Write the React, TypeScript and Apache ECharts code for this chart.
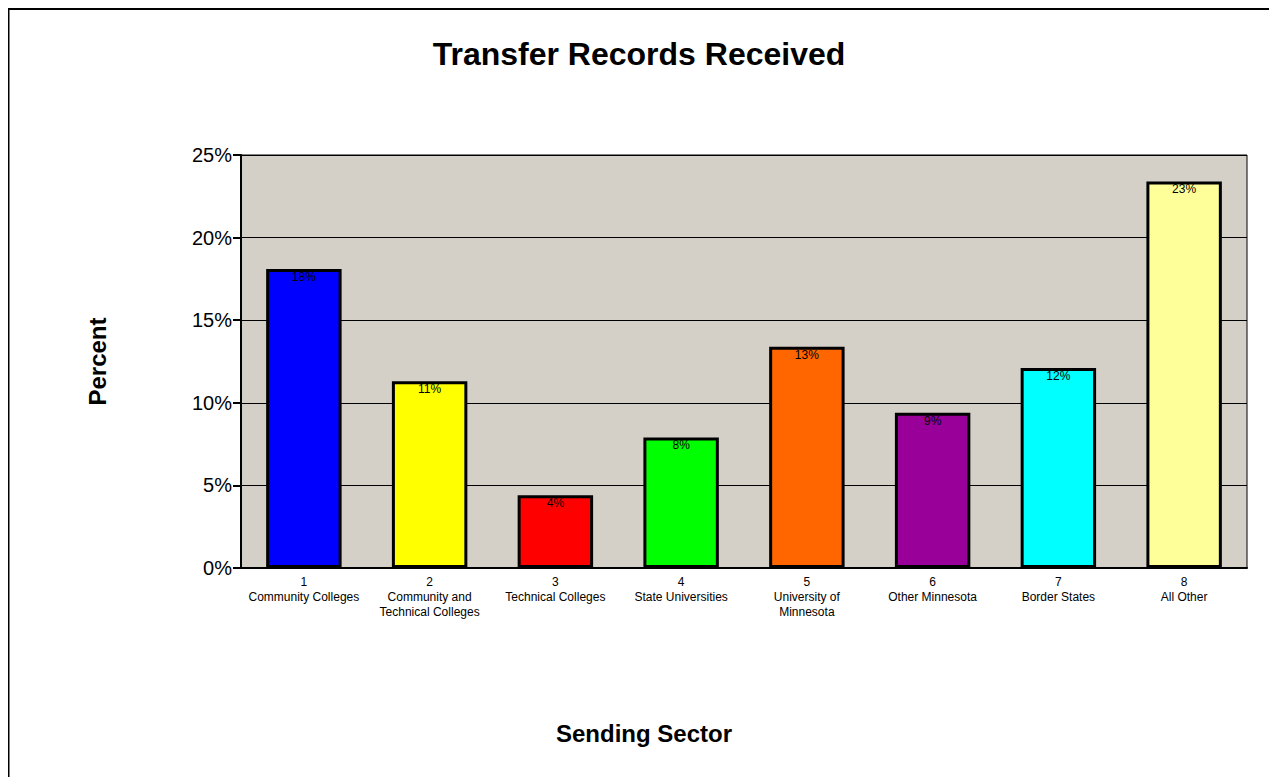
import React, { useEffect, useRef } from "react";
import * as echarts from "echarts";

const categories = [
  "1\nCommunity Colleges",
  "2\nCommunity and\nTechnical Colleges",
  "3\nTechnical Colleges",
  "4\nState Universities",
  "5\nUniversity of\nMinnesota",
  "6\nOther Minnesota",
  "7\nBorder States",
  "8\nAll Other",
];
const values = [18.1, 11.3, 4.4, 7.9, 13.4, 9.4, 12.1, 23.4];
const barColors = ["#0000FF", "#FFFF00", "#FF0000", "#00FF00", "#FF6600", "#990099", "#00FFFF", "#FFFF99"];
const yTicks = [0, 5, 10, 15, 20, 25];

const FONT = "Arial, 'Liberation Sans', sans-serif";

export default function App() {
  const ref = useRef<HTMLDivElement>(null);
  useEffect(() => {
    const el = ref.current;
    if (!el) return;
    const chart = echarts.init(el, undefined, { renderer: "svg" });
    chart.setOption({
      animation: false,
      backgroundColor: "#FFFFFF",
      textStyle: { fontFamily: FONT },
      graphic: [
        { type: "line", shape: { x1: 0, y1: 1, x2: 1269, y2: 1 }, style: { stroke: "#000", lineWidth: 2 } },
        { type: "line", shape: { x1: 0, y1: 0, x2: 0, y2: 769 }, style: { stroke: "#000", lineWidth: 3 } },
        {
          type: "text",
          x: 631,
          y: 45.5,
          style: {
            text: "Transfer Records Received",
            fontSize: 32,
            fontWeight: "bold",
            fontFamily: FONT,
            fill: "#000",
            align: "center",
            verticalAlign: "middle",
          },
        },
        {
          type: "text",
          x: 636,
          y: 725,
          style: {
            text: "Sending Sector",
            fontSize: 24,
            fontWeight: "bold",
            fontFamily: FONT,
            fill: "#000",
            align: "center",
            verticalAlign: "middle",
          },
        },
      ],
      grid: {
        left: 233,
        right: 30,
        top: 147,
        bottom: 209,
        show: true,
        backgroundColor: "#D4D0C8",
        borderColor: "#000",
        borderWidth: 1,
      },
      xAxis: {
        type: "category",
        data: categories,
        axisLine: { show: true, lineStyle: { color: "#000", width: 2 } },
        axisTick: { show: false },
        axisLabel: { interval: 0, fontSize: 12, lineHeight: 15, color: "#000", margin: 6, fontFamily: FONT },
      },
      yAxis: {
        type: "value",
        min: 0,
        max: 25,
        interval: 5,
        name: "Percent",
        nameLocation: "middle",
        nameGap: 132,
        nameTextStyle: { fontSize: 24, fontWeight: "bold", color: "#000", fontFamily: FONT },
        axisLine: { show: true, lineStyle: { color: "#000", width: 2 } },
        axisTick: { show: true, length: 8, lineStyle: { color: "#000", width: 2 } },
        axisLabel: {
          fontSize: 20,
          color: "#000",
          margin: 9,
          fontFamily: FONT,
          formatter: (v: number) => (yTicks.includes(v) ? v + "%" : ""),
        },
        splitLine: { show: true, lineStyle: { color: "#000", width: 1 } },
      },
      series: [
        {
          type: "bar",
          barWidth: "60%",
          data: values.map((v, i) => ({
            value: v,
            itemStyle: { color: barColors[i], borderColor: "#000", borderWidth: 3 },
          })),
          label: {
            show: true,
            position: "insideTop",
            distance: 2,
            fontSize: 12,
            color: "#000",
            fontFamily: FONT,
            formatter: (p: any) => Math.round(p.value) + "%",
          },
        },
      ],
    });
    return () => chart.dispose();
  }, []);
  return <div ref={ref} style={{ width: 1269, height: 769 }} />;
}
